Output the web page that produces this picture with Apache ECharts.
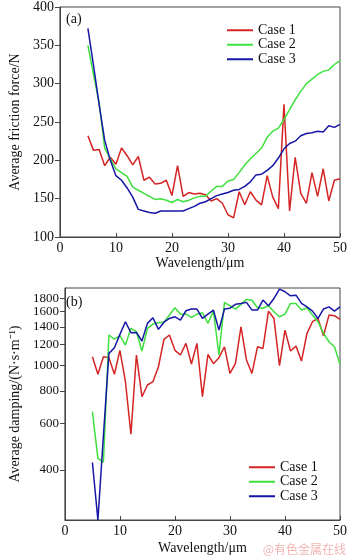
<!DOCTYPE html>
<html>
<head>
<meta charset="utf-8">
<script src="https://cdn.jsdelivr.net/npm/echarts@6/dist/echarts.min.js"></script>
<style>
  html, body { margin: 0; padding: 0; background: #fff; }
  #chart { width: 350px; height: 558px; }
</style>
</head>
<body>
<div id="chart"></div>
<script type="text/javascript">
// wavelength, um
var wavelength = [5, 6, 7, 8, 9, 10, 11, 12, 13, 14, 15, 16, 17, 18, 19, 20, 21, 22, 23, 24, 25, 26, 27,
    28, 29, 30, 31, 32, 33, 34, 35, 36, 37, 38, 39, 40, 41, 42, 43, 44, 45, 46, 47, 48, 49, 50];

// (a) average friction force, N
var friction1 = [232, 213, 214, 193, 204, 195, 216, 206, 194, 205, 174, 178, 169, 170, 174, 154, 193, 153, 158, 156, 157, 155, 147,
    150, 144, 129, 125, 159, 142, 159, 148, 142, 180, 152, 137, 273, 134, 204, 157, 144, 184, 153, 189, 147, 174, 176];
var friction2 = [350, 312, 275, 216, 202, 189, 184, 179, 165, 161, 157, 153, 149, 150, 148, 145, 149, 146, 148, 151, 153, 153, 160,
    166, 166, 173, 175, 184, 194, 202, 209, 216, 230, 238, 242, 253, 266, 279, 290, 300, 306, 312, 316, 318, 325, 330];
var friction3 = [372, 324, 273, 226, 200, 180, 174, 164, 152, 136, 134, 132, 131, 134, 134, 134, 134, 134, 137, 140, 144, 146, 150,
    154, 156, 158, 161, 162, 166, 172, 181, 182, 187, 193, 203, 215, 222, 225, 232, 235, 236, 238, 237, 245, 243, 247];

// (b) average damping, N*s/m
var damping1 = [1079, 925, 1079, 1070, 925, 1141, 867, 547, 1095, 760, 842, 867, 988, 1256, 1305, 1141, 1095, 1213, 1012, 1213, 760, 1100, 1015,
    1070, 1177, 932, 1018, 1403, 1048, 932, 1177, 1160, 1609, 1509, 997, 1362, 1134, 1184, 1039, 1323, 1466, 1509, 1297, 1554, 1545, 1495];
var damping2 = [666, 443, 428, 1305, 1259, 1297, 1195, 1383, 1343, 1134, 1383, 1436, 1453, 1460, 1554, 1657, 1566, 1566, 1522, 1566, 1586, 1446, 1609,
    1095, 1737, 1686, 1638, 1707, 1783, 1770, 1657, 1650, 1686, 1600, 1531, 1566, 1721, 1721, 1623, 1657, 1554, 1466, 1323, 1230, 1177, 1010];
var damping3 = [427, 258, 540, 1111, 1167, 1312, 1466, 1331, 1335, 1238, 1445, 1518, 1371, 1460, 1509, 1531, 1487, 1614, 1638, 1638, 1509, 1566, 1623,
    1362, 1638, 1650, 1707, 1721, 1737, 1623, 1623, 1772, 1686, 1798, 1951, 1906, 1840, 1850, 1721, 1670, 1609, 1509, 1638, 1670, 1609, 1670];

var dampingTicks = [400, 600, 800, 1000, 1200, 1400, 1600, 1800];
var caseNames = ['Case 1', 'Case 2', 'Case 3'];
var caseColors = ['#d42424', '#3ee03e', '#1616a6'];

function pairs(ys) {
    var res = [];
    for (var i = 0; i < wavelength.length; i++) {
        res.push([wavelength[i], ys[i]]);
    }
    return res;
}

var font = 'Liberation Serif';
var chart = echarts.init(document.getElementById('chart'), null, { renderer: 'canvas' });

function xAxisFor(gridIndex, nameGap) {
    return {
        type: 'value',
        gridIndex: gridIndex,
        min: 0, max: 50, interval: 10,
        name: 'Wavelength/μm',
        nameLocation: 'middle',
        nameGap: nameGap,
        nameTextStyle: { fontFamily: font, fontSize: 14, color: '#111' },
        axisLine: { lineStyle: { color: '#444', width: 1 } },
        axisTick: { inside: true, length: 4, lineStyle: { color: '#444' } },
        axisLabel: { fontFamily: font, fontSize: 14, color: '#111', margin: 4 },
        splitLine: { show: false }
    };
}

function lineSeries(name, idx, data, axisIndex) {
    return {
        name: name,
        type: 'line',
        xAxisIndex: axisIndex,
        yAxisIndex: axisIndex,
        data: pairs(data),
        symbol: 'none',
        lineStyle: { color: caseColors[idx], width: 1.5 },
        itemStyle: { color: caseColors[idx] },
        animation: false
    };
}

var legendCommon = {
    orient: 'vertical',
    data: caseNames,
    icon: 'rect',
    itemWidth: 26,
    itemHeight: 2,
    itemGap: 0,
    textStyle: { fontFamily: font, fontSize: 14, color: '#111', lineHeight: 14.5 }
};

var option = {
    backgroundColor: '#fff',
    title: [
        { text: '(a)', left: 61, top: 7, textStyle: { fontFamily: font, fontSize: 14, fontWeight: 'normal', color: '#111' } },
        { text: '(b)', left: 61, top: 290, textStyle: { fontFamily: font, fontSize: 14, fontWeight: 'normal', color: '#111' } }
    ],
    legend: [
        Object.assign({ left: 222, top: 18 }, legendCommon),
        Object.assign({ left: 244, top: 455 }, legendCommon)
    ],
    grid: [
        { left: 55, right: 7, top: 5, height: 232, show: true, borderColor: '#444', borderWidth: 1 },
        { left: 55, right: 7, top: 288, height: 232, show: true, borderColor: '#444', borderWidth: 1 }
    ],
    xAxis: [xAxisFor(0, 14), xAxisFor(1, 21)],
    yAxis: [
        {
            type: 'value',
            gridIndex: 0,
            min: 100, max: 400, interval: 50,
            name: 'Average friction force/N',
            nameLocation: 'middle',
            nameGap: 30,
            nameTextStyle: { fontFamily: font, fontSize: 14, color: '#111' },
            axisLine: { show: true, lineStyle: { color: '#444', width: 1 } },
            axisTick: { show: true, length: 5, lineStyle: { color: '#444' } },
            axisLabel: { fontFamily: font, fontSize: 14, color: '#111', margin: 6 },
            splitLine: { show: false }
        },
        {
            type: 'log',
            gridIndex: 1,
            min: 258, max: 1970,
            name: 'Average damping/(N·s·m⁻¹)',
            nameLocation: 'middle',
            nameGap: 38,
            nameTextStyle: { fontFamily: font, fontSize: 14, color: '#111' },
            axisLine: { show: true, lineStyle: { color: '#444', width: 1 } },
            axisTick: { show: true, length: 5, customValues: dampingTicks, lineStyle: { color: '#444' } },
            axisLabel: {
                fontFamily: font, fontSize: 13, color: '#111', margin: 6,
                customValues: dampingTicks,
                formatter: function (v) { return String(Math.round(v)); }
            },
            minorTick: { show: false },
            splitLine: { show: false }
        }
    ],
    graphic: [
        {
            type: 'text',
            right: 4,
            bottom: 3,
            style: { text: '@有色金属在线', font: '12px "Noto Sans CJK SC"', fill: '#f2b5b5' }
        }
    ],
    series: [
        lineSeries('Case 1', 0, friction1, 0),
        lineSeries('Case 2', 1, friction2, 0),
        lineSeries('Case 3', 2, friction3, 0),
        lineSeries('Case 1', 0, damping1, 1),
        lineSeries('Case 2', 1, damping2, 1),
        lineSeries('Case 3', 2, damping3, 1)
    ]
};

chart.setOption(option);
</script>
</body>
</html>
